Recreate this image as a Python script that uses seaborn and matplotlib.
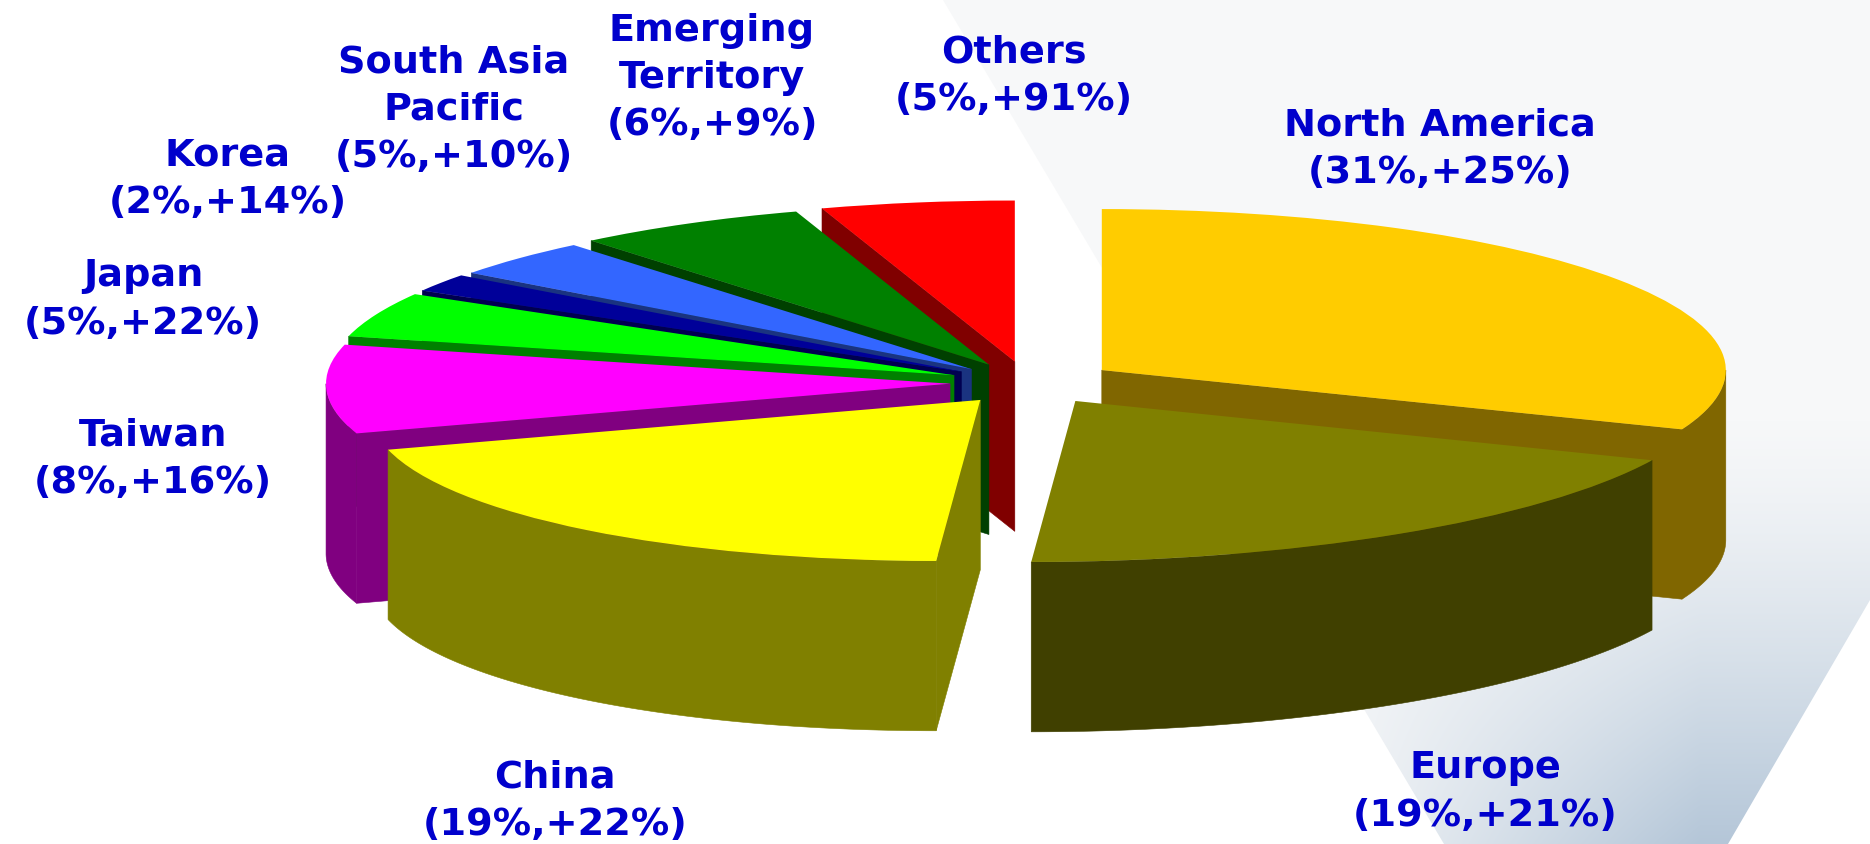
#!/usr/bin/env python
# -*- coding: utf-8 -*-

import numpy as np
import matplotlib
matplotlib.use('Agg')
import matplotlib.pyplot as plt
from matplotlib.patches import Polygon
from matplotlib.transforms import Affine2D
import seaborn as sns

# Chart data
regions = ['North America', 'Europe', 'China', 'Taiwan', 'Japan', 'Korea',
           'South Asia Pacific', 'Emerging Territory', 'Others']
# slice sizes as measured on the picture, the labels carry the rounded shares
slice_sizes = [31, 19, 20, 8.9, 4.5, 1.8, 3.8, 6, 5]
label_shares = [31, 19, 19, 8, 5, 2, 5, 6, 5]
growth = [25, 21, 22, 16, 22, 14, 10, 9, 91]
label_names = ['North America', 'Europe', 'China', 'Taiwan', 'Japan', 'Korea',
               'South Asia\nPacific', 'Emerging\nTerritory', 'Others']
top_colors = ['#FFCC00', '#808000', '#FFFF00', '#FF00FF', '#00FF00', '#000099',
              '#3366FF', '#008000', '#FF0000']
side_colors = ['#806600', '#404000', '#808000', '#800080', '#008000', '#000050',
               '#1A3380', '#004000', '#800000']

# Label centres in pixels of the final picture
label_xy = [(1440, 149), (1485, 792), (555, 801), (153, 459), (143, 300),
            (228, 179), (454, 110), (712, 78), (1014, 76)]

W, H = 1870, 844
CX, CY = 1028, 383      # pie centre, px
RX, RY = 624, 161       # ellipse radii, px
DEPTH = 1.055           # thickness in y units
EXPLODE = [0.143, 0.135, 0.13, 0.125, 0.128, 0.128, 0.125, 0.13, 0.135]
SHEAR = 0.0707          # the two front slices lean to the left
WIDEN = [1, 1.022, 0.975, 1, 1, 1, 1, 1, 1]
TEXT_COLOR = '#0000CC'

sns.set_theme(style='white')
plt.rcParams['font.family'] = ['DejaVu Sans']

fig = plt.figure(figsize=(W / 100, H / 100), dpi=100, facecolor='white')

# Pale backdrop shape behind the pie
bg = fig.add_axes([0, 0, 1, 1])
yy, xx = np.mgrid[0:H, 0:W]
t = np.clip((yy - 420) / 424.0, 0, 1) ** 1.3 * np.clip((xx - 1300) / 400.0, 0.15, 1)
start = np.array([0xF7, 0xF8, 0xF9]) / 255
stop = np.array([0xB4, 0xC6, 0xD8]) / 255
img = start + (stop - start) * t[..., None]
im = bg.imshow(img, extent=(0, W, H, 0), aspect='auto', zorder=0)
shape = Polygon([(943, 0), (W, 0), (W, 600), (1728, H), (1444, H)], closed=True,
                transform=bg.transData, facecolor='none', edgecolor='none')
bg.add_patch(shape)
im.set_clip_path(shape)
bg.set_xlim(0, W)
bg.set_ylim(H, 0)
bg.axis('off')

# Pie drawn flat, then stretched to an ellipse
ax = fig.add_axes([0, 0, 1, 1], facecolor='none')
wedges, _ = ax.pie(slice_sizes, explode=EXPLODE, startangle=90,
                   counterclock=False, colors=sns.color_palette(top_colors),
                   wedgeprops={'linewidth': 0})
ax.set_aspect('auto')
ax.set_xlim(-CX / RX, (W - CX) / RX)
ax.set_ylim(-(H - CY) / RY, CY / RY)


def leans(wedge):
    mid = (wedge.theta1 + wedge.theta2) / 2
    return abs(mid + 90) < 60


def rim_xy(wedge, phi, widen):
    # point on the slice edge, with the lean of the front slices
    cx, cy = wedge.center
    dx = np.cos(np.radians(phi))
    dy = np.sin(np.radians(phi))
    k = SHEAR if leans(wedge) else 0
    return cx + widen * dx + k * dy, cy + dy


def add_face(xs, ys, color, z):
    xs = np.asarray(xs)
    ys = np.asarray(ys)
    ax.fill(np.r_[xs, xs[::-1]], np.r_[ys, ys[::-1] - DEPTH], color=color,
            linewidth=0.4, zorder=z)


# Back slices first so the front ones paint over them
mids = [np.sin(np.radians((w.theta1 + w.theta2) / 2)) for w in wedges]
order = np.argsort(mids)[::-1]
for rank, i in enumerate(order):
    wedge = wedges[i]
    side = side_colors[i]
    z = 2 + rank * 2
    cx, cy = wedge.center

    # cut faces
    if wedge.theta2 <= -90:
        px, py = rim_xy(wedge, wedge.theta2, WIDEN[i])
        add_face([cx, px], [cy, py], side, z)
    if -90 < wedge.theta1 < 0:
        px, py = rim_xy(wedge, wedge.theta1, WIDEN[i])
        add_face([cx, px], [cy, py], side, z)

    # outer rim, front half only
    lo = max(wedge.theta1, -180)
    hi = min(wedge.theta2, 0)
    if hi > lo:
        phi = np.linspace(lo, hi, 80)
        px, py = rim_xy(wedge, phi, WIDEN[i])
        add_face(px, py, side, z)

    # top surface
    if leans(wedge):
        a = WIDEN[i]
        lean = Affine2D.from_values(a, 0, SHEAR, 1, cx * (1 - a) - SHEAR * cy, 0)
        wedge.set_transform(lean + ax.transData)
    wedge.set_zorder(z + 1)

# Labels
for name, share, g, (x, y) in zip(label_names, label_shares, growth, label_xy):
    fig.text(x / W, 1 - y / H, f'{name}\n({share}%,+{g}%)', ha='center', va='center',
             color=TEXT_COLOR, fontsize=27.5, fontweight='bold', linespacing=1.4)

fig.savefig('out.png', dpi=100)
